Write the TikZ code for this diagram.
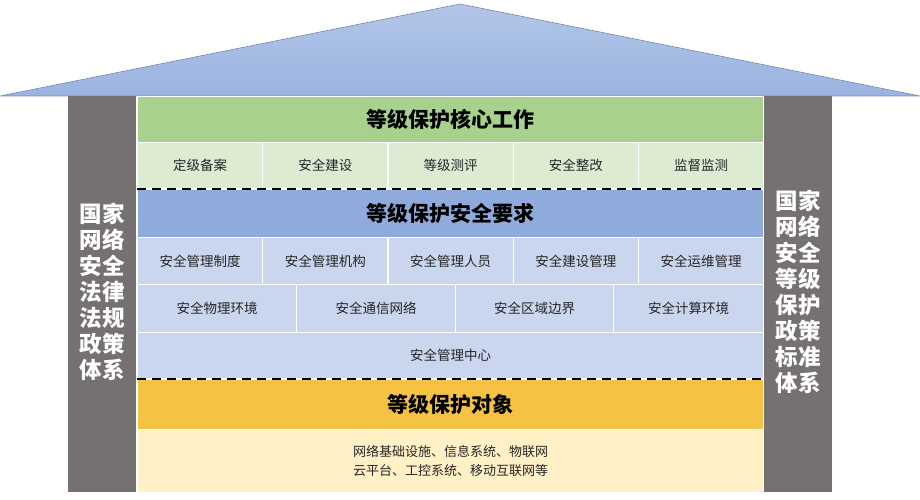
\documentclass[tikz,border=0pt]{standalone}
\usepackage{fontspec}
\newfontfamily\cjk{Noto Sans CJK SC}
\usetikzlibrary{positioning}
\definecolor{pillar}{HTML}{767171}
\definecolor{greenhead}{HTML}{A9D18E}
\definecolor{greencell}{HTML}{DDEBD3}
\definecolor{bluehead}{HTML}{8FAADC}
\definecolor{bluecell}{HTML}{C9D6EE}
\definecolor{yellowhead}{HTML}{F5C244}
\definecolor{yellowcell}{HTML}{FFF0C6}
\definecolor{roofblue}{HTML}{9AB3E0}
\tikzset{
	every node/.style={
		align=center, font=\cjk, inner sep=0pt,
	},
	head/.style={rectangle, draw=white, line width=1.2pt, font=\cjk\bfseries\fontsize{21}{24}\selectfont},
	cell/.style={rectangle, draw=white, line width=1.2pt, text=black!85, font=\cjk\fontsize{13.5}{17}\selectfont},
	sidetext/.style={text=white, font=\cjk\bfseries\fontsize{22.5}{26}\selectfont},
	divider/.style={line width=2.2pt, dash pattern=on 9pt off 6pt},
}
\begin{document}
\begin{tikzpicture}[x=1pt,y=-1pt]
    \useasboundingbox (0,0) rectangle (920,500);
    % roof
    \shade[top color=roofblue!75, bottom color=roofblue, draw=roofblue!80!black, line width=0.6pt] (0,96) -- (460,4) -- (920,96) -- cycle;
    % pillars
    \node (lpillar) [rectangle, fill=pillar, minimum width=68, minimum height=396, anchor=north west] at (68,96) {};
    \node (rpillar) [rectangle, fill=pillar, minimum width=68, minimum height=396, anchor=north west] at (764,96) {};
    \node (ltext) [sidetext] at (102,292) {国家\\网络\\安全\\法律\\法规\\政策\\体系};
    \node (rtext) [sidetext] at (798,292) {国家\\网络\\安全\\等级\\保护\\政策\\标准\\体系};
    % core work
    \node (core) [head, fill=greenhead, minimum width=626, minimum height=46, anchor=north west] at (137,96) {等级保护核心工作};
    \foreach \t [count=\i] in {定级备案,安全建设,等级测评,安全整改,监督监测}
        \node (w\i) [cell, fill=greencell, minimum width=125.2, minimum height=46, anchor=north west] at ({137+125.2*(\i-1)},142) {\t};
    % requirements
    \node (req) [head, fill=bluehead, minimum width=626, minimum height=48, anchor=north west] at (137,189) {等级保护安全要求};
    \foreach \t [count=\i] in {安全管理制度,安全管理机构,安全管理人员,安全建设管理,安全运维管理}
        \node (m\i) [cell, fill=bluecell, minimum width=125.2, minimum height=47, anchor=north west] at ({137+125.2*(\i-1)},237) {\t};
    \node (t1) [cell, fill=bluecell, minimum width=159, minimum height=48, anchor=north west] at (137,284) {安全物理环境};
    \node (t2) [cell, fill=bluecell, minimum width=159, minimum height=48, anchor=north west] at (296,284) {安全通信网络};
    \node (t3) [cell, fill=bluecell, minimum width=158, minimum height=48, anchor=north west] at (455,284) {安全区域边界};
    \node (t4) [cell, fill=bluecell, minimum width=150, minimum height=48, anchor=north west] at (613,284) {安全计算环境};
    \node (center) [cell, fill=bluecell, minimum width=626, minimum height=46, anchor=north west] at (137,332) {安全管理中心};
    % objects
    \node (obj) [head, fill=yellowhead, minimum width=626, minimum height=50, anchor=north west] at (137,379) {等级保护对象};
    \node (objs) [cell, fill=yellowcell, minimum width=626, minimum height=63, anchor=north west, font=\cjk\fontsize{13}{19}\selectfont] at (137,429) {网络基础设施、信息系统、物联网\\云平台、工控系统、移动互联网等};
    % dividers
    \draw[divider] (core.west |- req.north) -- (core.east |- req.north);
    \draw[divider] (obj.north west) -- (obj.north east);
\end{tikzpicture}
\end{document}
